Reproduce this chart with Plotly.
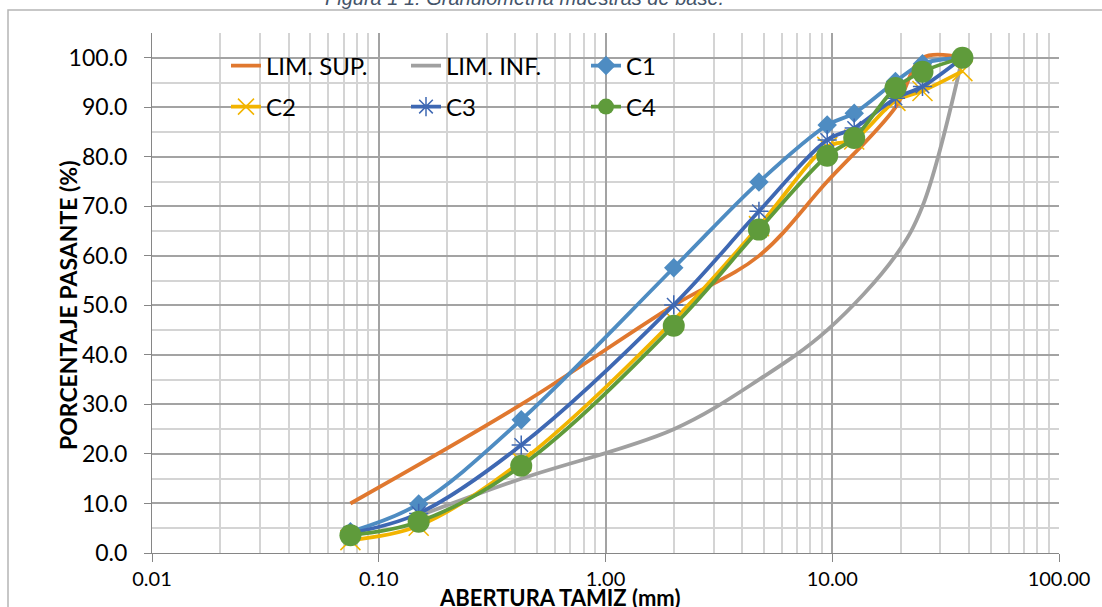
import plotly.graph_objects as go

# ---------------- data ----------------
sieve_mm = [0.075, 0.150, 0.425, 2.00, 4.75, 9.50, 12.50, 19.00, 25.00, 37.50]
c1 = [4.3, 9.9, 26.9, 57.6, 74.9, 86.4, 88.8, 95.2, 98.8, 100.0]
c2 = [2.6, 5.5, 18.5, 47.0, 66.0, 82.0, 83.5, 91.3, 93.3, 97.3]
c3 = [4.0, 8.0, 21.8, 50.1, 69.0, 83.4, 85.8, 91.8, 94.2, 100.0]
c4 = [3.6, 6.3, 17.6, 45.9, 65.3, 80.2, 83.8, 93.9, 97.2, 100.0]

lim_sup_mm = [0.075, 0.425, 2.00, 4.75, 9.50, 19.00, 25.00, 37.50]
lim_sup = [10.0, 30.0, 50.0, 60.0, 75.0, 90.0, 100.0, 100.0]
lim_inf_mm = [0.150, 0.425, 2.00, 4.75, 9.50, 19.00, 25.00, 37.50]
lim_inf = [7.5, 15.0, 25.0, 35.0, 45.0, 60.0, 70.0, 100.0]

x_tick_vals = [0.01, 0.1, 1, 10, 100]
x_tick_text = ["0.01", "0.10", "1.00", "10.00", "100.00"]

# ---------------- layout geometry (pixels) ----------------
W, H = 1102, 607
L, R, T, B = 152, 1059, 33, 553
PW, PH = R - L, B - T


def px_x(p):
    return (p - L) / PW


def px_y(p):
    return (B - p) / PH


FONT = "Lato"
ORANGE = "#E0782F"
GRAY = "#A0A0A0"
LBLUE = "#4E8CC2"
GOLD = "#F2B400"
DBLUE = "#3E68B3"
GREEN = "#5F9B3B"
LW = 3.8

fig = go.Figure()

fig.add_trace(go.Scatter(x=lim_sup_mm, y=lim_sup, name="LIM. SUP.", mode="lines",
                         line=dict(color=ORANGE, width=LW, shape="spline", smoothing=1),
                         legend="legend"))
fig.add_trace(go.Scatter(x=lim_inf_mm, y=lim_inf, name="LIM. INF.", mode="lines",
                         line=dict(color=GRAY, width=LW, shape="spline", smoothing=1),
                         legend="legend"))
fig.add_trace(go.Scatter(x=sieve_mm, y=c1, name="C1", mode="lines+markers",
                         line=dict(color=LBLUE, width=LW, shape="spline", smoothing=1),
                         marker=dict(symbol="diamond", size=15, color=LBLUE),
                         legend="legend"))
fig.add_trace(go.Scatter(x=sieve_mm, y=c2, name="C2", mode="lines+markers",
                         line=dict(color=GOLD, width=LW, shape="spline", smoothing=1),
                         marker=dict(symbol="x-thin", size=20, color=GOLD,
                                     line=dict(color=GOLD, width=1.5)),
                         legend="legend2"))
fig.add_trace(go.Scatter(x=sieve_mm, y=c3, name="C3", mode="lines+markers",
                         line=dict(color=DBLUE, width=LW, shape="spline", smoothing=1),
                         marker=dict(symbol="asterisk", size=16, color=DBLUE,
                                     line=dict(color=DBLUE, width=1.5)),
                         legend="legend2"))
fig.add_trace(go.Scatter(x=sieve_mm, y=c4, name="C4", mode="lines+markers",
                         line=dict(color=GREEN, width=LW, shape="spline", smoothing=1),
                         marker=dict(symbol="circle", size=22, color=GREEN),
                         legend="legend2"))

minor_x = [m * 10.0 ** e for e in range(-2, 2) for m in range(2, 10)]

legend_common = dict(orientation="h", bgcolor="rgba(0,0,0,0)",
                     font=dict(family=FONT, size=24, color="#000000"),
                     entrywidth=135, entrywidthmode="pixels",
                     xanchor="left", yanchor="middle", itemsizing="trace",
                     tracegroupgap=0, itemclick=False)

fig.update_layout(
    width=W, height=H,
    margin=dict(l=L, r=W - R, t=T, b=H - B, pad=0),
    paper_bgcolor="white", plot_bgcolor="white",
    showlegend=True,
    legend=dict(x=px_x(226), y=px_y(66), **legend_common),
    legend2=dict(x=px_x(226), y=px_y(107), **legend_common),
    xaxis=dict(type="log", range=[-2, 2],
               tickmode="array", tickvals=x_tick_vals, ticktext=x_tick_text,
               ticks="outside", ticklen=8, tickcolor="#868686", tickwidth=1,
               showline=True, linecolor="#868686", linewidth=1,
               showgrid=True, gridcolor="#A3A3A3", gridwidth=1.5,
               minor=dict(tickmode="array", tickvals=minor_x, showgrid=True,
                          gridcolor="#D4D4D4", gridwidth=1.5, ticks=""),
               tickfont=dict(family=FONT, size=20, color="#000000"),
               zeroline=False, fixedrange=True),
    yaxis=dict(range=[0, 105], tickmode="linear", tick0=0, dtick=10,
               tickformat=".1f",
               ticks="outside", ticklen=7, tickcolor="#868686", tickwidth=1,
               ticklabelstandoff=12,
               showline=True, linecolor="#868686", linewidth=1,
               showgrid=True, gridcolor="#A3A3A3", gridwidth=1.5,
               minor=dict(tick0=0, dtick=5, showgrid=True,
                          gridcolor="#D4D4D4", gridwidth=1.5, ticks=""),
               tickfont=dict(family=FONT, size=23, color="#000000"),
               zeroline=False, fixedrange=True),
    annotations=[
        dict(text="ABERTURA TAMIZ (mm)", xref="paper", yref="paper",
             x=px_x(559), y=px_y(597), xanchor="center", yanchor="middle",
             showarrow=False, font=dict(family=FONT, size=22, color="#000000", weight="bold")),
        dict(text="PORCENTAJE PASANTE (%)", xref="paper", yref="paper",
             x=px_x(68), y=px_y(305), xanchor="center", yanchor="middle", textangle=-90,
             showarrow=False, font=dict(family=FONT, size=23, color="#000000", weight="bold")),
        dict(text="<i>Figura 1 1: Granulometría muestras de base.</i>", xref="paper", yref="paper",
             x=px_x(524), y=px_y(11), xanchor="center", yanchor="bottom",
             showarrow=False, font=dict(family="Liberation Sans", size=20, color="#44546A")),
    ],
    shapes=[
        dict(type="rect", xref="paper", yref="paper",
             x0=px_x(8), x1=px_x(1115), y0=px_y(620), y1=px_y(10),
             line=dict(color="#B5B5B5", width=1.5), layer="below"),
    ],
)

fig.write_html("out.html")
